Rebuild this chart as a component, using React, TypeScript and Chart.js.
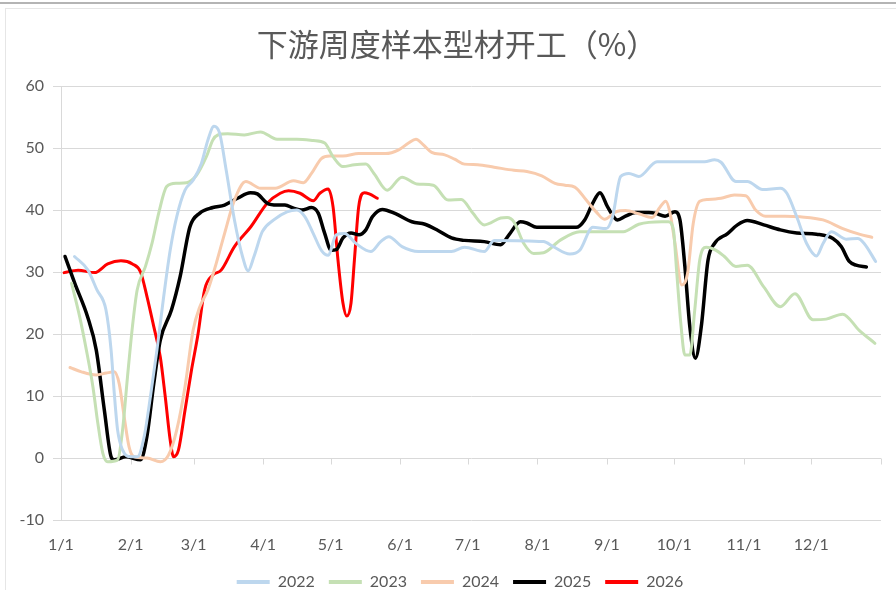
import React, { useEffect, useRef } from "react";
import { Chart, registerables } from "chart.js";

Chart.register(...registerables);

const TITLE = "下游周度样本型材开工（%）";
const monthTickDays = [0, 31, 59, 90, 120, 151, 181, 212, 243, 273, 304, 334, 365];
const monthLabels = ["1/1", "2/1", "3/1", "4/1", "5/1", "6/1", "7/1", "8/1", "9/1", "10/1", "11/1", "12/1", ""];
const yTicks = [-10, 0, 10, 20, 30, 40, 50, 60];

const days2022 = [6, 12, 16, 20, 22.3, 23.7, 25.2, 27.4, 31, 34, 37, 40, 42.7, 45.7, 48.6, 51.5, 55.2, 58.8, 62.5, 65.4, 68.1, 70.6, 73.5, 77.2, 80.8, 83.3, 85.9, 89.6, 94.7, 100.6, 105, 108.6, 112.3, 115.9, 118.9, 122.5, 126.2, 131.3, 137.9, 142.3, 145.9, 151.8, 159.1, 173.8, 179.6, 188.4, 192.8, 214.8, 219.1, 226.5, 230.9, 236.7, 242.6, 245.5, 249.1, 252.8, 257.2, 265.3, 286.5, 290.9, 293.8, 300.4, 305.5, 312.3, 320.2, 323.1, 327.5, 331.9, 336.3, 339.2, 342.9, 349.5, 354.6, 357.5, 362.6];
const vals2022 = [32.5, 30.3, 27.1, 23.9, 17.4, 10.5, 4.5, 1.3, 0.2, 0.2, 3.4, 10.4, 17.4, 26, 33.5, 38.9, 43.2, 44.8, 47.5, 51.3, 53.5, 52.4, 46.5, 38.4, 32.5, 30.2, 32.5, 36.5, 38.4, 39.7, 40, 38.9, 36.2, 33.5, 32.7, 36, 36.2, 34.6, 33.3, 34.9, 35.7, 34.1, 33.3, 33.3, 34, 33.3, 35.1, 34.9, 34.1, 32.9, 33.5, 37.2, 37, 38.9, 45.4, 45.9, 45.4, 47.8, 47.8, 48.1, 47.7, 44.6, 44.6, 43.3, 43.5, 42.7, 38.9, 34.6, 32.6, 34.6, 36.5, 35.3, 35.4, 34.6, 31.7];

const days2023 = [4.7, 8.3, 11.3, 14.2, 16.4, 18.6, 20.8, 25.2, 27.4, 29.6, 31.8, 33.9, 37.6, 40.5, 43.5, 47.1, 51.5, 55.9, 60.3, 64.7, 67.6, 69.8, 74.2, 81.6, 88.8, 96.2, 105, 112.3, 117.4, 121.1, 125.5, 130.6, 135.7, 139.3, 145.2, 151.8, 158.4, 165.7, 172.3, 178.2, 183.3, 188.4, 195.7, 198.6, 201.6, 206, 210.4, 214.8, 222.1, 230.9, 250.3, 257.2, 267.5, 270.4, 272.6, 274, 275.9, 277.7, 279.9, 282.1, 284.3, 287.2, 291.6, 295.3, 300.4, 305.5, 312.8, 320.2, 326.7, 334.7, 340.6, 347.9, 355.3, 362.3];
const vals2023 = [28.2, 22.8, 17.4, 11.5, 5.6, 0.8, -0.6, -0.3, 4.5, 13.1, 21.2, 27.1, 30.9, 34.6, 39.5, 43.8, 44.3, 44.4, 45.6, 48.6, 51.3, 52.1, 52.3, 52.1, 52.6, 51.4, 51.4, 51.2, 50.8, 48.6, 47, 47.3, 47.4, 45.9, 43.2, 45.3, 44.2, 44, 41.6, 41.7, 39.5, 37.6, 38.7, 38.8, 38.1, 34.6, 33, 33.1, 35.1, 36.5, 36.5, 37.7, 38.1, 38.1, 36.8, 30.3, 21.7, 16.6, 16.6, 23.9, 31.9, 34, 33.5, 32.5, 30.9, 31.1, 27.6, 24.4, 26.5, 22.3, 22.4, 23.2, 20.6, 18.5];

const days2024 = [4, 9.1, 15.7, 20.1, 23.7, 25.9, 28.1, 30.3, 32.5, 38.3, 44.2, 47.9, 51.5, 55.2, 58.8, 61.8, 65.4, 69.1, 72.8, 77.2, 82.3, 88.8, 95.4, 103.5, 107.9, 111.5, 115.9, 119.6, 125.5, 132.6, 144.5, 150.3, 154.7, 158, 161.3, 165, 170.8, 175.2, 179.6, 185.5, 192.8, 201.6, 207.4, 214, 219.9, 224.3, 228.7, 233.8, 238.2, 241.9, 247, 251.3, 257.2, 263.1, 266.7, 269.2, 271.1, 273.3, 276.3, 278.9, 281.4, 284.3, 288, 293.8, 299.7, 304.8, 309.2, 313.6, 322.4, 329, 339.2, 348, 355.3, 360.9];
const vals2024 = [14.6, 13.9, 13.4, 13.7, 13.9, 12, 6.7, 1.8, 0.2, 0, -0.6, 0.5, 4.5, 11.5, 20.6, 24.4, 27.1, 31.4, 36.2, 41.6, 44.6, 43.5, 43.5, 44.7, 44.4, 45.9, 48.3, 48.7, 48.7, 49.1, 49.1, 49.7, 50.8, 51.4, 50.5, 49.3, 48.9, 48.2, 47.4, 47.3, 46.9, 46.4, 46.2, 45.5, 44.3, 44, 43.7, 41.6, 39.7, 38.5, 39.7, 39.9, 39.4, 38.8, 40.5, 41.4, 39.5, 34.6, 27.9, 29.8, 37.8, 41.4, 41.7, 41.9, 42.4, 42.3, 40, 39, 39, 38.9, 38.4, 37, 36.1, 35.6];

const days2025 = [1.8, 6.1, 11.9, 15.7, 19.3, 22.3, 23.7, 28.9, 35.4, 38.2, 41.3, 44.2, 49.2, 53, 57.4, 61.8, 67.6, 72.8, 78.6, 84.3, 87.4, 91.8, 96.2, 99.7, 103.5, 107.2, 111.5, 114.5, 117.3, 120.3, 122.5, 125.5, 129.1, 132.6, 135.7, 138.6, 143, 148.9, 156.2, 162, 167.8, 173.8, 179.6, 188.4, 195.7, 199.4, 204.5, 207.3, 211.8, 229.3, 233.1, 236.7, 239.9, 243.3, 247.7, 251.3, 255.7, 261.6, 264.5, 268.9, 273.3, 275.5, 277.7, 279.9, 282.4, 285, 288, 290.9, 296.7, 301.1, 305.5, 312.8, 320.2, 327.5, 336.3, 343.6, 347.3, 350.9, 353.9, 358.5];
const vals2025 = [32.5, 28.2, 22.7, 17.4, 7.7, 0.2, -0.3, 0.2, -0.3, 3.4, 12, 19, 23.9, 29.2, 37.3, 39.5, 40.4, 40.8, 41.9, 42.8, 42.6, 41.1, 40.8, 40.8, 40.3, 40, 40.4, 39.5, 36.3, 33.5, 33.6, 35.5, 36.3, 36, 36.8, 38.9, 40.1, 39.4, 38.1, 37.7, 36.7, 35.5, 35.1, 34.9, 34.4, 36, 38.1, 37.9, 37.2, 37.2, 38.4, 41.1, 42.8, 40.5, 38.4, 39, 39.6, 39.6, 39.5, 39, 39.7, 38.4, 30.9, 21.2, 16.1, 21.2, 31.9, 34.6, 36.2, 37.6, 38.3, 37.6, 36.8, 36.3, 36.1, 35.4, 34.1, 31.7, 31.1, 30.8];

const days2026 = [1.4, 7.6, 14.9, 20.8, 26.7, 31.8, 35.4, 38.3, 41.3, 44.2, 46.4, 48.6, 50.1, 52.3, 55.2, 58, 61, 63.9, 67.6, 71.3, 77.2, 84.5, 91.8, 97.6, 101.3, 106.4, 112.3, 115.2, 118.9, 121.1, 123.3, 125.5, 127.2, 129.1, 130.6, 132.5, 135, 137.2, 140.8];
const vals2026 = [29.9, 30.3, 29.9, 31.3, 31.8, 31.3, 30, 26, 21.2, 16.3, 9.9, 2.9, 0.2, 1.3, 7.7, 14, 20, 27.1, 29.5, 30.3, 34.1, 37.3, 41.1, 42.7, 43.1, 42.7, 41.5, 42.7, 43.4, 40.5, 31.9, 25, 22.9, 25, 31.9, 40.5, 42.8, 42.6, 41.9];

const seriesDefs = [
  { label: "2022", days: days2022, vals: vals2022, color: "#BDD7EE", width: 3 },
  { label: "2023", days: days2023, vals: vals2023, color: "#C5E0B4", width: 3 },
  { label: "2024", days: days2024, vals: vals2024, color: "#F8CBAD", width: 3 },
  { label: "2025", days: days2025, vals: vals2025, color: "#000000", width: 3.5 },
  { label: "2026", days: days2026, vals: vals2026, color: "#FF0000", width: 3 },
];

const GRID = "#d9d9d9";
const TEXT = "#595959";
const FONT = "Lato, 'Noto Sans', sans-serif";

const zeroAxisTicks = {
  id: "zeroAxisTicks",
  beforeDatasetsDraw(chart: any) {
    const { ctx, scales } = chart;
    const x = scales.x;
    const y = scales.y;
    const y0 = Math.round(y.getPixelForValue(0)) + 0.5;
    ctx.save();
    ctx.strokeStyle = GRID;
    ctx.lineWidth = 1;
    ctx.beginPath();
    for (const d of monthTickDays) {
      const px = Math.round(x.getPixelForValue(d)) + 0.5;
      ctx.moveTo(px, y0);
      ctx.lineTo(px, y0 + 6);
    }
    ctx.stroke();
    ctx.restore();
  },
};

const blockShift = {
  id: "blockShift",
  afterLayout(chart: any) {
    const lg = chart.legend;
    if (lg) {
      lg.left += 14;
      lg.right += 14;
    }
    const tb = chart.titleBlock;
    if (tb) {
      tb.left += 11;
      tb.right += 11;
    }
  },
};

export default function App() {
  const ref = useRef<HTMLCanvasElement | null>(null);

  useEffect(() => {
    if (!ref.current) return;
    const chart = new Chart(ref.current, {
      type: "line",
      data: {
        datasets: seriesDefs.map((s) => ({
          label: s.label,
          data: s.days.map((d, i) => ({ x: d, y: s.vals[i] })),
          borderColor: s.color,
          backgroundColor: s.color,
          borderWidth: s.width,
          pointRadius: 0,
          pointHoverRadius: 0,
          fill: false,
          cubicInterpolationMode: "monotone" as const,
          borderCapStyle: "round" as const,
          borderJoinStyle: "round" as const,
        })),
      },
      options: {
        animation: false,
        responsive: false,
        maintainAspectRatio: false,
        layout: { padding: { left: 0, right: 4, top: 0, bottom: 0 } },
        plugins: {
          title: {
            display: true,
            text: TITLE,
            color: TEXT,
            font: { family: "'Noto Sans CJK SC', sans-serif", size: 31, weight: "normal" },
            padding: { top: 25.4, bottom: 23.4 },
          },
          legend: {
            display: true,
            position: "bottom",
            labels: {
              boxWidth: 33,
              boxHeight: 4,
              padding: 14,
              color: TEXT,
              font: { family: FONT, size: 16 },
              generateLabels: (c: any) =>
                (Chart.defaults.plugins.legend.labels.generateLabels as any)(c).map((l: any) => ({ ...l, lineWidth: 0 })),
            },
          },
          tooltip: { enabled: false },
        },
        scales: {
          x: {
            type: "linear",
            min: 0,
            max: 365,
            afterBuildTicks: (scale: any) => {
              scale.ticks = monthTickDays.map((v) => ({ value: v }));
            },
            afterFit: (scale: any) => {
              scale.height = 40;
            },
            ticks: {
              autoSkip: false,
              maxRotation: 0,
              padding: 15,
              color: TEXT,
              font: { family: FONT, size: 16 },
              callback: (_v: any, i: number) => monthLabels[i],
            },
            grid: { display: false, drawTicks: false },
            border: { display: false },
          },
          y: {
            min: -10,
            max: 60,
            afterBuildTicks: (scale: any) => {
              scale.ticks = yTicks.map((v) => ({ value: v }));
            },
            afterFit: (scale: any) => {
              scale.width = 61;
            },
            ticks: {
              padding: 9,
              color: TEXT,
              font: { family: FONT, size: 16 },
            },
            grid: { color: GRID, lineWidth: 1, drawTicks: true, tickLength: 8 },
            border: { display: true, color: GRID, width: 1 },
          },
        },
      },
      plugins: [zeroAxisTicks, blockShift],
    });
    return () => chart.destroy();
  }, []);

  return (
    <div style={{ position: "absolute", left: 0, top: 0, width: 896, height: 590, overflow: "hidden", background: "#fff" }}>
      <canvas ref={ref} width={896} height={600} style={{ display: "block", width: 896, height: 600 }} />
      <div style={{ position: "absolute", left: 0, top: 2, width: 896, height: 2, background: "#b4b4b4", pointerEvents: "none" }} />
      <div style={{ position: "absolute", left: 5, top: 8, width: 900, height: 600, borderLeft: "1px solid #e6e6e6", borderTop: "1px solid #e6e6e6", pointerEvents: "none" }} />
    </div>
  );
}
